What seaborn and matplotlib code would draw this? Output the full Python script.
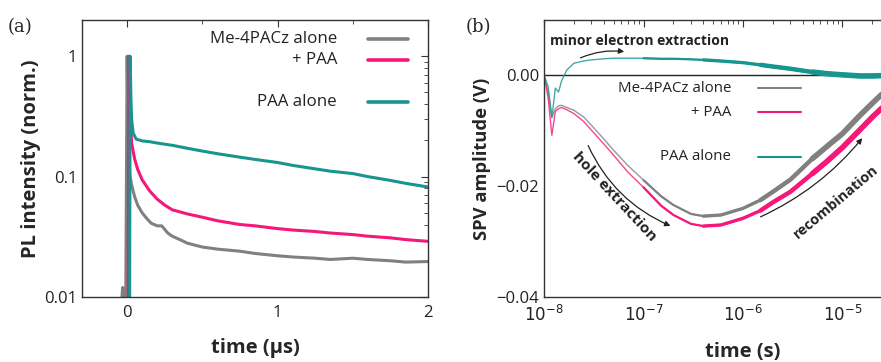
import numpy as np
import pandas as pd
import matplotlib
matplotlib.use("Agg")
import matplotlib.pyplot as plt
import seaborn as sns

sns.set_theme(style="white")
plt.rcParams['font.family'] = ['Open Sans', 'DejaVu Sans']
plt.rcParams['mathtext.fontset'] = 'dejavusans'

GREY = "#808080"
PINK = "#f5177a"
TEAL = "#17958f"

# ---------------- Panel (a) data: PL decay (time in microseconds) ----------------
pl_t_grey = [-0.05, -0.03, -0.02, -0.01, 0.0, 0.005, 0.01, 0.02, 0.03, 0.05, 0.07, 0.1, 0.13, 0.16, 0.2, 0.23,
             0.27, 0.3, 0.35, 0.4, 0.5, 0.6, 0.75, 0.85, 1.0, 1.1, 1.25, 1.35, 1.5, 1.6, 1.75, 1.85, 2.0]
pl_y_grey = [0.005, 0.012, 0.011, 0.006, 1.0, 0.3, 0.13, 0.1, 0.085, 0.068, 0.058, 0.05, 0.045, 0.041, 0.039, 0.039,
             0.034, 0.032, 0.030, 0.028, 0.026, 0.025, 0.024, 0.023, 0.022, 0.0215, 0.021, 0.0205, 0.021, 0.0205, 0.020, 0.0195, 0.0197]

pl_t_pink = [0.005, 0.012, 0.02, 0.03, 0.05, 0.07, 0.1, 0.15, 0.2, 0.25, 0.3, 0.4, 0.5, 0.6, 0.75, 0.85,
             1.0, 1.1, 1.25, 1.35, 1.5, 1.6, 1.75, 1.85, 2.0]
pl_y_pink = [0.001, 1.0, 0.3, 0.19, 0.14, 0.115, 0.094, 0.076, 0.065, 0.058, 0.053, 0.049, 0.046, 0.043, 0.040, 0.039,
             0.037, 0.036, 0.035, 0.034, 0.033, 0.032, 0.031, 0.030, 0.029]

pl_t_teal = [0.015, 0.02, 0.025, 0.03, 0.04, 0.06, 0.1, 0.15, 0.2, 0.3, 0.4, 0.5, 0.6, 0.75, 0.85,
             1.0, 1.1, 1.25, 1.35, 1.5, 1.6, 1.75, 1.85, 2.0]
pl_y_teal = [0.001, 1.0, 0.45, 0.3, 0.23, 0.205, 0.198, 0.195, 0.19, 0.182, 0.172, 0.163, 0.155, 0.145, 0.139,
             0.131, 0.124, 0.116, 0.111, 0.106, 0.100, 0.093, 0.088, 0.082]

# ---------------- Panel (b) data: SPV transients (time in seconds) ----------------
spv_t = [1.0e-8, 1.1e-8, 1.2e-8, 1.3e-8, 1.4e-8, 1.5e-8, 1.7e-8, 2.0e-8, 2.5e-8, 3.0e-8, 4.0e-8, 5.0e-8,
         7.0e-8, 1.0e-7, 1.5e-7, 2.0e-7, 3.0e-7, 4.0e-7, 6.0e-7, 1.0e-6, 1.5e-6, 2.0e-6, 3.0e-6,
         5.0e-6, 7.0e-6, 1.0e-5, 1.5e-5, 2.0e-5, 3.0e-5]
spv_grey = [0.0, -0.003, -0.0076, -0.0060, -0.0055, -0.0054, -0.0058, -0.0063, -0.0075, -0.0090, -0.0115, -0.0135,
            -0.0163, -0.0189, -0.0218, -0.0234, -0.0250, -0.0254, -0.0252, -0.0240, -0.0225, -0.0210, -0.0188,
            -0.0150, -0.0128, -0.0105, -0.0072, -0.0050, -0.0020]
spv_pink = [0.0, -0.004, -0.0108, -0.0065, -0.0060, -0.0058, -0.0062, -0.0069, -0.0083, -0.0099, -0.0124, -0.0144,
            -0.0175, -0.0202, -0.0235, -0.0252, -0.0268, -0.0272, -0.0270, -0.0258, -0.0244, -0.0229, -0.0210,
            -0.0177, -0.0155, -0.0130, -0.0098, -0.0075, -0.0045]
spv_teal = [0.0, -0.002, -0.0076, -0.0023, -0.0030, -0.0010, 0.0010, 0.0022, 0.0026, 0.0028, 0.0030, 0.0031,
            0.0031, 0.0031, 0.0030, 0.0030, 0.0029, 0.0028, 0.0026, 0.0023, 0.0019, 0.0016, 0.0012,
            0.0006, 0.0003, 0.0001, -0.0001, -0.0001, 0.0]

labels = ["Me-4PACz alone", "+ PAA", "PAA alone"]

fig = plt.figure(figsize=(8.81, 3.62), dpi=100)
axA = fig.add_axes([82/881, 65/362, 346/881, 277/362])
axB = fig.add_axes([544/881, 65/362, 398/881, 277/362])

# ---- panel (a)
dfa = pd.concat([
    pd.DataFrame({"t": pl_t_grey, "y": pl_y_grey, "s": labels[0]}),
    pd.DataFrame({"t": pl_t_pink, "y": pl_y_pink, "s": labels[1]}),
    pd.DataFrame({"t": pl_t_teal, "y": pl_y_teal, "s": labels[2]}),
])
pal = {labels[0]: GREY, labels[1]: PINK, labels[2]: TEAL}
sns.lineplot(data=dfa, x="t", y="y", hue="s", palette=pal, ax=axA, lw=2.2, sort=False,
             estimator=None, legend=False)
axA.set_yscale("log")
axA.set_xlim(-0.3, 2.0)
axA.set_ylim(0.01, 2.0)
axA.set_xticks([0, 1, 2])
axA.set_xticklabels(["0", "1", "2"])
axA.set_xticks([0.5, 1.5], minor=True)
axA.set_yticks([0.01, 0.1, 1])
axA.set_yticklabels(["0.01", "0.1", "1"])
axA.set_xlabel("time (μs)", fontsize=14.5, fontweight="bold", labelpad=12)
axA.set_ylabel("PL intensity (norm.)", fontsize=14.5, fontweight="bold", labelpad=2)

legA_y = [39, 60, 102]
for lab, c, py in zip(labels, [GREY, PINK, TEAL], legA_y):
    yf = 1 - (py - 20) / 277
    axA.plot([(368-82)/346, (408-82)/346], [yf, yf], transform=axA.transAxes, color=c, lw=2.6,
             solid_capstyle="round")
    axA.text((337-82)/346, yf, lab, transform=axA.transAxes, ha="right", va="center", fontsize=12.2,
             color="#222222")

# ---- panel (b)
dfb = pd.concat([
    pd.DataFrame({"t": spv_t, "v": spv_grey, "s": labels[0]}),
    pd.DataFrame({"t": spv_t, "v": spv_pink, "s": labels[1]}),
    pd.DataFrame({"t": spv_t, "v": spv_teal, "s": labels[2]}),
])
axB.axhline(0, color="#222222", lw=1.0, zorder=1)
sns.lineplot(data=dfb, x="t", y="v", hue="s", palette=pal, ax=axB, lw=1.0, sort=False,
             estimator=None, legend=False, alpha=0.8)
for tmin, w in [(1e-7, 1.6), (4e-7, 2.4), (1.5e-6, 3.2), (5e-6, 4.0)]:
    part = dfb[dfb["t"] >= tmin]
    sns.lineplot(data=part, x="t", y="v", hue="s", palette=pal, ax=axB, lw=w, sort=False,
                 estimator=None, legend=False)
axB.set_xscale("log")
axB.set_xlim(1e-8, 1e-4)
axB.set_ylim(-0.04, 0.01)
axB.set_yticks([-0.04, -0.02, 0.0])
axB.set_yticklabels(["\u22120.04", "\u22120.02", "0.00"])
axB.set_xticks([1e-8, 1e-7, 1e-6, 1e-5])
axB.set_xticklabels([r"$10^{-8}$", r"$10^{-7}$", r"$10^{-6}$", r"$10^{-5}$"])
axB.set_xlabel("time (s)", fontsize=14.5, fontweight="bold", labelpad=12)
axB.set_ylabel("SPV amplitude (V)", fontsize=13.2, fontweight="bold", labelpad=4)

legB_y = [88, 112, 157]
for lab, c, py in zip(labels, [GREY, PINK, TEAL], legB_y):
    yf = 1 - (py - 20) / 277
    axB.plot([(758-544)/398, (801-544)/398], [yf, yf], transform=axB.transAxes, color=c, lw=1.5)
    axB.text((731-544)/398, yf, lab, transform=axB.transAxes, ha="right", va="center", fontsize=10.8,
             color="#222222")

def bx(px):
    return (px - 544) / 398
def by(py):
    return 1 - (py - 20) / 277

axB.text(bx(550), by(41), "minor electron extraction", transform=axB.transAxes, ha="left", va="center",
         fontsize=10, fontweight="bold", color="#222222")
axB.annotate("", xy=(bx(627), by(52)), xytext=(bx(578), by(59)), xycoords="axes fraction",
             arrowprops=dict(arrowstyle="-|>", color="#222222", lw=0.9, mutation_scale=8,
                             connectionstyle="arc3,rad=-0.15"))
axB.text(bx(614), by(197), "hole extraction", transform=axB.transAxes, ha="center", va="center",
         fontsize=11, fontweight="bold", rotation=-47, color="#222222")
axB.annotate("", xy=(bx(673), by(227)), xytext=(bx(587), by(143)), xycoords="axes fraction",
             arrowprops=dict(arrowstyle="-|>", color="#222222", lw=0.9, mutation_scale=8,
                             connectionstyle="arc3,rad=0.2"))
axB.text(bx(836), by(202), "recombination", transform=axB.transAxes, ha="center", va="center",
         fontsize=10.4, fontweight="bold", rotation=40, color="#222222")
axB.annotate("", xy=(bx(864), by(136)), xytext=(bx(758), by(218)), xycoords="axes fraction",
             arrowprops=dict(arrowstyle="-|>", color="#222222", lw=0.9, mutation_scale=8,
                             connectionstyle="arc3,rad=0.12"))

for ax in (axA, axB):
    for sp in ax.spines.values():
        sp.set_color("#333333")
        sp.set_linewidth(1.0)
    ax.tick_params(which="both", direction="in", top=True, right=True, colors="#333333",
                   labelcolor="#222222", labelsize=12)
    ax.tick_params(which="major", length=5, width=0.8)
    ax.tick_params(which="minor", length=3, width=0.6)
axB.minorticks_on()
axB.set_yticks([-0.03, -0.01], minor=True)
axA.tick_params(axis="x", pad=6)
axB.tick_params(axis="x", pad=6)

fig.text(8/881, 1 - 27/362, "(a)", fontsize=13, family="DejaVu Serif", va="center", ha="left")
fig.text(466/881, 1 - 27/362, "(b)", fontsize=13, family="DejaVu Serif", va="center", ha="left")

fig.savefig("out.png", dpi=100)
